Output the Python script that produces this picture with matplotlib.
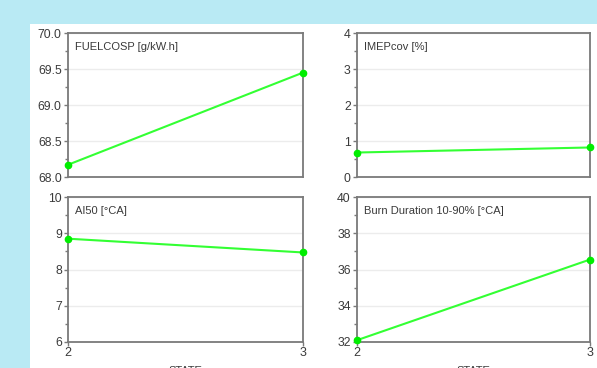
import matplotlib.pyplot as plt
from matplotlib.patches import Rectangle
from matplotlib.ticker import AutoMinorLocator

plt.rcParams['font.family'] = ['Liberation Sans', 'DejaVu Sans']

# engine test results per state
states = [2, 3]
fuel_cosp = [68.17, 69.45]
imep_cov = [0.68, 0.82]
ai50 = [8.85, 8.47]
burn_dur = [32.1, 36.55]

panels = [
    ('FUELCOSP [g/kW.h]', fuel_cosp, (68.0, 70.0), [68.0, 68.5, 69.0, 69.5, 70.0], '%.1f'),
    ('IMEPcov [%]', imep_cov, (0, 4), [0, 1, 2, 3, 4], '%d'),
    ('AI50 [°CA]', ai50, (6, 10), [6, 7, 8, 9, 10], '%d'),
    ('Burn Duration 10-90% [°CA]', burn_dur, (32, 40), [32, 34, 36, 38, 40], '%d'),
]

W, H = 597, 368
fig = plt.figure(figsize=(W / 100, H / 100), dpi=100)
fig.patch.set_facecolor('#b9eaf4')
fig.add_artist(Rectangle((30 / W, 0), 1 - 30 / W, 1 - 24 / H,
                         transform=fig.transFigure, facecolor='white',
                         edgecolor='none', zorder=0))

# axes boxes in pixels: left, top, right, bottom
boxes = [(68, 33, 303, 177), (357, 33, 590, 177),
         (68, 197, 303, 342), (357, 197, 590, 342)]

for i, ((title, vals, ylim, yt, fmt), (l, t, r, b)) in enumerate(zip(panels, boxes)):
    ax = fig.add_axes([l / W, 1 - b / H, (r - l) / W, (b - t) / H])
    ax.plot(states, vals, color='#33ff33', lw=1.5, marker='o', ms=4.5,
            mfc='#00ee00', mec='#00ee00', clip_on=False, zorder=3)
    ax.set_xlim(2, 3)
    ax.set_ylim(*ylim)
    ax.set_yticks(yt)
    ax.set_yticklabels([fmt % v for v in yt])
    ax.yaxis.set_minor_locator(AutoMinorLocator(2))
    ax.grid(axis='y', color='#ececec', lw=1)
    ax.set_axisbelow(True)
    for s in ax.spines.values():
        s.set_color('#7a7a7a')
        s.set_linewidth(1.3)
    ax.tick_params(axis='y', which='major', length=3, width=1, color='#7a7a7a',
                   labelsize=8.8, labelcolor='#3a3a3a', pad=1.5)
    ax.tick_params(axis='y', which='minor', length=2, width=1, color='#7a7a7a')
    ax.set_xticks(states)
    if i < 2:
        ax.tick_params(axis='x', length=0, labelbottom=False)
    else:
        ax.tick_params(axis='x', length=3, width=1, color='#7a7a7a',
                       labelsize=9, labelcolor='#3a3a3a', pad=0.5)
        ax.set_xlabel('STATE', fontsize=8, color='#3a3a3a', labelpad=5)
    ax.text(0.03, 0.94, title, transform=ax.transAxes, fontsize=8,
            color='#3a3a3a', va='top', ha='left')

fig.savefig('out.png', dpi=100)
